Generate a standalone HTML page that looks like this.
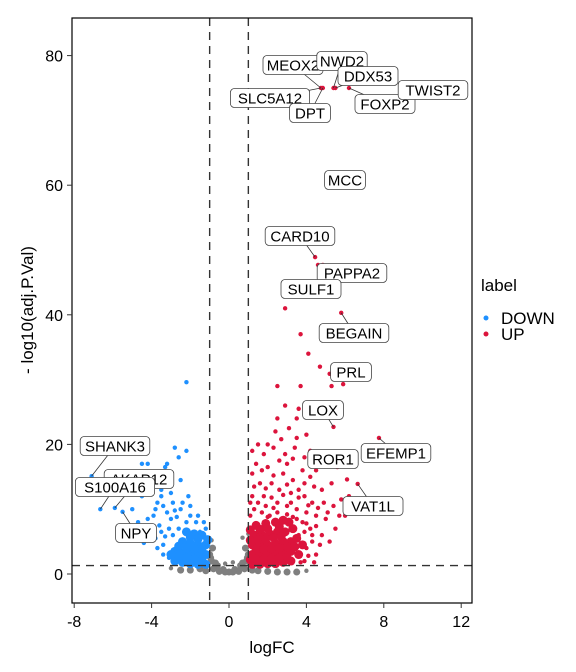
<!DOCTYPE html>
<html><head><meta charset="utf-8"><style>
body{margin:0;background:#fff;}
svg{display:block;font-family:"Liberation Sans",sans-serif;}
</style></head><body>
<svg id="chart" width="576" height="672"></svg>
<script>
const xTicks=[-8,-4,0,4,8,12];
const yTicks=[0,20,40,60,80];
const upCore=[[1.2,1.5],[1.6,1.5],[2.0,1.6],[2.4,1.6],[2.8,1.8],[3.2,2],[1.2,3],[1.6,3],[2.0,3],[2.4,3.2],[2.8,3.2],[3.2,3.5],[3.6,3],[1.2,4.5],[1.6,4.5],[2.0,4.5],[2.4,4.8],[2.8,5],[3.2,5],[3.5,5.5],[1.3,6],[1.7,6],[2.1,6.2],[2.5,6.5],[2.9,6.5],[3.3,7],[1.4,7.5],[1.9,7.8],[2.4,8],[2.8,8.3],[1.1,2.2],[1.1,5.2],[1.4,2.3],[1.8,2.3],[2.2,2.4],[2.6,2.5],[3.0,2.6],[1.4,3.8],[1.8,3.8],[2.2,3.9],[2.6,4],[3.0,4.2],[1.5,5.3],[1.9,5.4],[2.3,5.6],[2.7,5.8],[3.4,4.2],[3.8,4.5],[1.1,6.8],[1.6,6.9],[2.0,7],[2.6,7.3],[3.1,8]];
const upPts=[[2.0,20],[2.3,19.5],[3.5,21],[3.0,17],[2.8,15.5],[3.8,16],[4.2,19],[3.5,24],[3.6,25.5],[4.6,26],[2.5,29],[3.7,29],[4.1,34],[3.7,37],[2.9,41],[3.8,44],[4.7,32],[5.3,29],[2.2,14],[2.6,13],[3.2,12.5],[3.9,12],[4.4,13.5],[4.9,11],[5.3,14],[4.5,16],[1.4,17],[1.6,14],[1.2,12],[1.8,12],[2.5,11],[3.0,10.5],[3.5,10],[4.0,9.5],[4.5,9],[5.0,8.5],[5.5,7],[6.0,9],[4.2,7],[3.8,8],[1.3,10],[1.7,9.5],[2.1,9],[2.7,8.5],[3.3,8.8],[4.8,6],[5.2,5],[2.0,16.5],[2.9,18.5],[3.3,14.5],[1.5,20],[5.8,11.5],[6.2,12],[4.3,11],[3.9,14],[2.4,22],[3.1,22.5],[1.9,10.5],[3.6,6],[4.0,4],[4.5,3],[4.3,5],[3.9,2],[1.1,9],[1.3,13.5],[2.2,11.8],[2.6,17.5],[3.4,19.5],[4.0,21.5],[4.6,18],[1.8,18.5],[2.9,26],[5.6,16.5],
[1.2,15.5],[1.5,11],[1.9,13.2],[2.3,10.2],[2.8,12.2],[3.2,11],[3.6,11.8],[4.1,10.6],[4.6,10.2],[5.1,9.5],[2.0,8.8],[2.5,9.5],[3.0,9.2],[3.5,8.5],[4.0,7.8],[4.5,7.4],[3.9,6.5],[4.3,6],[4.7,4.5],[4.1,2.8],[3.7,1.8],[4.4,1.8],[1.1,11],[1.7,16],[2.3,15.2],[3.0,13.8],[3.6,13],[4.2,15],[4.8,13],[5.4,10.5],[5.7,9],[2.7,20.8],[3.3,17.8],[1.2,19],[2.5,24],[3.9,18],
[4.75,75],[4.85,75],[5.4,75],[5.5,75],[6.2,75],[10.0,75],[5.95,60.8],[4.45,48.9],[4.6,47.7],[4.85,47.7],[4.3,43.4],[5.3,43.5],[5.8,40.3],[5.2,30.9],[5.9,29.3],[5.4,22.7],[7.75,21],[4.75,17.1],[6.65,13.9],[6.1,14.6]];
const downCore=[[-1.2,1.5],[-1.6,1.5],[-2.0,1.6],[-2.4,1.8],[-2.8,2],[-1.2,3],[-1.6,3],[-2.0,3.2],[-2.4,3.2],[-2.8,3.5],[-1.2,4.5],[-1.6,4.5],[-2.0,4.8],[-2.4,5],[-1.4,6],[-1.8,6.2],[-2.2,6.5],[-1.4,2.3],[-1.8,2.3],[-2.2,2.5],[-2.6,2.7],[-1.4,3.8],[-1.8,3.9],[-2.2,4],[-2.6,4.3],[-1.1,5.3],[-1.6,5.4],[-2.0,5.7],[-3.0,3]];
const downPts=[[-3.5,12],[-4,13.5],[-3,14],[-3.2,17],[-2.6,18],[-2.2,19],[-4.5,17],[-4.2,17],[-3.3,16.5],[-2.8,19.5],[-4.5,12],[-5,10],[-5.1,7],[-4.7,8],[-4.2,8.5],[-3.8,10],[-3.4,10.5],[-2.9,11],[-2.5,10],[-2,9],[-1.7,8],[-3.6,7.5],[-4.1,6],[-3.7,4],[-3.3,5.8],[-2.6,7],[-2.3,5],[-2.7,4],[-1.5,6.5],[-1.2,7],[-3.0,8.5],[-4.4,4.8],[-3.5,13],[-2.1,12],[-2.5,14.5],[-3.1,2.5],[-3.4,3],[-2.9,6],[-3.9,9],[-2.2,8],[-3.2,9.5],[-2.7,8.8],[-2.4,11],[-3.0,12.5],[-3.7,11],[-4.0,7],[-3.5,6.5],[-3.1,7],[-2.8,9.8],[-2.0,10.5],[-1.6,9],[-1.3,8],[-3.8,5.5],[-3.4,4.5],[-2.2,29.6],
[-7.1,15.1],[-6.65,10],[-5.9,10.2],[-5.5,9.6]];
const grayCore=[[0,0.3],[-0.3,0.7],[0.3,0.7],[-0.6,1.3],[0.6,1.3],[-0.9,2],[0.9,2],[-1.0,3],[1.0,3],[-1.5,0.8],[-2,0.6],[1.5,0.5],[2,0.4],[2.5,0.3],[3,0.3],[-2.5,0.6],[-0.8,0.8],[0.8,0.8],[-1.2,0.5],[1.2,0.6],[3.5,0.3],[-0.85,4],[0.85,4],[-0.5,0.4],[0.5,0.4],[-0.7,1.7],[0.7,1.7],[-0.95,2.5],[0.95,2.5],[-0.2,0.3],[0.2,0.3]];
const grayPts=[[0.7,5.6],[-0.9,5.2],[1.0,6.2],[-3,0.9],[4,0.5],[-0.2,1.6],[0.2,1.8]];
const labelNames=["MEOX2","NWD2","DDX53","SLC5A12","DPT","FOXP2","TWIST2","MCC","CARD10","PAPPA2","SULF1","BEGAIN","PRL","LOX","EFEMP1","ROR1","VAT1L","SHANK3","AKAP12","S100A16","NPY"];
const labelPointX=[4.75,5.4,5.5,4.75,4.85,6.2,10.0,5.95,4.45,4.85,4.3,5.8,5.2,5.4,7.75,4.75,6.65,-7.1,-5.9,-6.65,-5.5];
const labelPointY=[75,75,75,75,75,75,75,60.8,48.9,47.7,43.4,40.3,30.9,22.7,21,17.1,13.9,15.1,10.2,10,9.6];
const labelBoxX=[293,342,368,270,310,385,433,345,300,352,311,354,351,323,396,333,373,115,139,115,136];
const labelBoxY=[65,61,76,98,113,104,90,180,236,273,289,333,372,410,453,459,506,446,479,487,533];

const NS="http://www.w3.org/2000/svg";
const svg=document.getElementById('chart');
const X=v=>229+v*19.35, Y=v=>574-v*6.48;
function el(t,a,p){const e=document.createElementNS(NS,t);for(const k in a)e.setAttribute(k,a[k]);(p||svg).appendChild(e);return e;}
const clip=el('clipPath',{id:'c'});el('rect',{x:72,y:18,width:400,height:585},clip);
const g=el('g',{'clip-path':'url(#c)'});


function dots(arr,r,col,name){arr.forEach(p=>{const c=el('circle',{cx:X(p[0]),cy:Y(p[1]),r:r,fill:col},g);

});}
dots(grayCore,3.5,'#7f7f7f','gray-point');dots(grayPts,2.2,'#7f7f7f','gray-point');
dots(downCore,4.5,'#1e90ff','down-point');dots(downPts,2.2,'#1e90ff','down-point');
dots(upCore,4.5,'#dc143c','up-point');dots(upPts,2.2,'#dc143c','up-point');
[[X(-1),18,X(-1),603],[X(1),18,X(1),603],[72,Y(1.3),472,Y(1.3)]].forEach(l=>{const d=el('line',{x1:l[0],y1:l[1],x2:l[2],y2:l[3],stroke:'#333','stroke-width':1.4,'stroke-dasharray':'8,6'});

});
labelNames.forEach((n,i)=>{const w=n.length*9.6+12,bx=labelBoxX[i],by=labelBoxY[i];
const ln=el('line',{x1:X(labelPointX[i]),y1:Y(labelPointY[i]),x2:bx,y2:by,stroke:'#333','stroke-width':0.8});


const r=el('rect',{x:bx-w/2,y:by-9.5,width:w,height:19,rx:4,fill:'#fff',stroke:'#444','stroke-width':0.8});


const t=el('text',{x:bx,y:by+5.5,'text-anchor':'middle','font-size':15,fill:'#000'});t.textContent=n;

});
const fr=el('rect',{x:72,y:18,width:400,height:585,fill:'none',stroke:'#000','stroke-width':1.2});


xTicks.forEach(v=>{el('line',{x1:X(v),y1:603,x2:X(v),y2:608,stroke:'#333'});
const t=el('text',{x:X(v),y:627,'text-anchor':'middle','font-size':16,fill:'#000'});t.textContent=v;

});
yTicks.forEach(v=>{el('line',{x1:67,y1:Y(v),x2:72,y2:Y(v),stroke:'#333'});
const t=el('text',{x:63,y:Y(v)+6,'text-anchor':'end','font-size':16,fill:'#000'});t.textContent=v;

});
let t=el('text',{x:272,y:653,'text-anchor':'middle','font-size':17});t.textContent='logFC';


t=el('text',{x:0,y:0,'text-anchor':'middle','font-size':17,transform:'translate(33,310) rotate(-90)'});t.textContent='- log10(adj.P.Val)';


t=el('text',{x:481,y:291,'font-size':17});t.textContent='label';


[['DOWN','#1e90ff',318],['UP','#dc143c',334]].forEach(a=>{el('circle',{cx:486,cy:a[2],r:2.5,fill:a[1]});
const tt=el('text',{x:501,y:a[2]+6,'font-size':17});tt.textContent=a[0];

});
</script>
</body></html>
